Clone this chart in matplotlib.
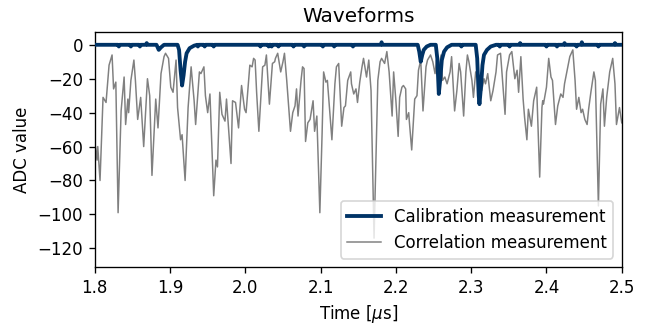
import numpy as np
import matplotlib
matplotlib.use("Agg")
import matplotlib.pyplot as plt

# calibration waveform (time in us, ADC counts)
calib_time = [
    1.800, 1.831, 1.832, 1.833, 1.847, 1.848, 1.849, 1.859, 1.860, 1.861,
    1.868, 1.869, 1.870, 1.882, 1.885, 1.888, 1.892,
    1.910, 1.912, 1.914, 1.916, 1.918, 1.920, 1.922, 1.926, 1.932,
    1.936, 1.937, 1.938, 1.945, 1.946, 1.947, 1.957, 1.958, 1.959,
    2.019, 2.020, 2.021, 2.030, 2.031, 2.032, 2.034, 2.035, 2.036,
    2.043, 2.044, 2.045, 2.063, 2.064, 2.065, 2.077, 2.078, 2.079,
    2.102, 2.103, 2.104, 2.117, 2.118, 2.119, 2.142, 2.143, 2.144,
    2.180, 2.181, 2.182,
    2.229, 2.231, 2.233, 2.235, 2.237, 2.241, 2.246,
    2.253, 2.255, 2.257, 2.259, 2.261, 2.264, 2.268, 2.274,
    2.286, 2.287, 2.288,
    2.306, 2.308, 2.310, 2.311, 2.313, 2.315, 2.317, 2.321, 2.326, 2.333,
    2.337, 2.338, 2.339, 2.350, 2.351, 2.352, 2.364, 2.365, 2.366,
    2.399, 2.400, 2.401, 2.413, 2.414, 2.415, 2.423, 2.424, 2.425,
    2.439, 2.440, 2.441, 2.446, 2.447, 2.448, 2.468, 2.469, 2.470,
    2.490, 2.491, 2.492, 2.500,
]
calib_adc = [
    0, 0, -1, 0, 0, -1, 0, 0, -1, 0,
    0, 1, 0, 0, -3, -1.5, 0,
    0, -3, -15, -24, -18, -10, -5, -2, -0.5,
    0, -1, 0, 0, -1, 0, 0, -1, 0,
    0, -1, 0, 0, -1, 0, 0, -1, 0,
    0, -1, 0, 0, -1, 0, 0, -1, 0,
    0, -1, 0, 0, -1, 0, 0, -1, 0,
    0, 1.5, 0,
    0, -4, -10, -6, -3, -1, 0,
    0, -8, -29, -20, -9, -4, -1.5, 0,
    0, -1, 0,
    0, -8, -30, -35, -25, -12, -6, -3, -1, 0,
    0, -1, 0, 0, -1, 0, 0, 1, 0,
    0, -1, 0, 0, -1, 0, 0, 1, 0,
    0, -1, 0, 0, 1.5, 0, 0, -1, 0,
    0, 1, 0, 0,
]

# correlation waveform (time in us, ADC counts)
corr_time = [
    1.800, 1.801, 1.803, 1.804, 1.807, 1.811, 1.815, 1.819, 1.823, 1.825,
    1.828, 1.831, 1.835, 1.839, 1.841, 1.844, 1.845, 1.848, 1.852, 1.854,
    1.857, 1.861, 1.865, 1.870, 1.873, 1.876, 1.881, 1.884, 1.888, 1.892,
    1.894, 1.898, 1.901, 1.904, 1.908, 1.910, 1.914, 1.916, 1.920, 1.924,
    1.928, 1.932, 1.934, 1.939, 1.941, 1.945, 1.947, 1.950, 1.953, 1.958,
    1.961, 1.963, 1.966, 1.969, 1.973, 1.975, 1.981, 1.983, 1.987, 1.991,
    1.995, 1.999, 2.001, 2.006, 2.009, 2.011, 2.013, 2.015, 2.018, 2.020,
    2.023, 2.026, 2.028, 2.032, 2.036, 2.039, 2.040, 2.043, 2.047, 2.050,
    2.052, 2.055, 2.060, 2.063, 2.066, 2.068, 2.070, 2.074, 2.076, 2.078,
    2.080, 2.083, 2.086, 2.090, 2.092, 2.095, 2.099, 2.102, 2.104, 2.107,
    2.109, 2.115, 2.119, 2.121, 2.124, 2.128, 2.131, 2.133, 2.136, 2.140,
    2.141, 2.144, 2.147, 2.149, 2.152, 2.155, 2.157, 2.161, 2.164, 2.167,
    2.171, 2.176, 2.179, 2.181, 2.185, 2.188, 2.191, 2.195, 2.197, 2.200,
    2.203, 2.205, 2.208, 2.210, 2.213, 2.214, 2.217, 2.218, 2.221, 2.225,
    2.228, 2.230, 2.233, 2.236, 2.240, 2.242, 2.246, 2.249, 2.252, 2.254,
    2.257, 2.260, 2.262, 2.265, 2.268, 2.272, 2.274, 2.278, 2.281, 2.284,
    2.286, 2.290, 2.293, 2.295, 2.297, 2.301, 2.303, 2.306, 2.310, 2.314,
    2.317, 2.319, 2.322, 2.326, 2.329, 2.333, 2.335, 2.339, 2.345, 2.347,
    2.351, 2.354, 2.358, 2.361, 2.363, 2.366, 2.369, 2.371, 2.374, 2.376,
    2.380, 2.383, 2.387, 2.391, 2.394, 2.395, 2.396, 2.400, 2.403, 2.406,
    2.408, 2.412, 2.415, 2.419, 2.422, 2.424, 2.427, 2.431, 2.435, 2.438,
    2.440, 2.443, 2.446, 2.448, 2.451, 2.454, 2.456, 2.459, 2.463, 2.465,
    2.469, 2.472, 2.475, 2.477, 2.480, 2.484, 2.488, 2.491, 2.493, 2.497,
    2.500,
]
corr_adc = [
    -72, -60, -68, -60, -80, -31, -34, -12, -6, -26,
    -22, -99, -39, -19, -47, -32, -40, -21, -9, -21,
    -44, -31, -60, -20, -30, -77, -32, -49, -17, -7,
    -5, -8, -25, -28, -9, -37, -56, -53, -80, -37,
    -13, -33, -47, -16, -17, -13, -30, -40, -29, -89,
    -68, -72, -28, -41, -45, -32, -70, -33, -34, -49,
    -24, -38, -40, -12, -13, -8, -9, -28, -51, -36,
    -13, -12, -6, -35, -11, -10, -8, -5, -16, -10,
    -5, -21, -51, -40, -36, -26, -42, -21, -13, -14,
    -57, -46, -44, -33, -51, -42, -99, -52, -16, -22,
    -21, -56, -23, -13, -11, -48, -37, -36, -21, -16,
    -23, -29, -26, -34, -22, -13, -8, -19, -9, -27,
    -114, -21, -10, -8, -11, -4, -16, -42, -16, -33,
    -54, -31, -25, -24, -26, -44, -40, -46, -62, -32,
    -30, -15, -9, -39, -13, -9, -6, -10, -17, -9,
    -14, -6, -21, -19, -23, -16, -7, -39, -27, -11,
    -16, -42, -16, -6, -10, -21, -31, -16, -18, -27,
    -20, -23, -17, -33, -27, -16, -6, -5, -41, -16,
    -6, -4, -20, -15, -28, -7, -32, -43, -56, -38,
    -48, -33, -25, -78, -37, -33, -35, -25, -8, -19,
    -21, -47, -36, -29, -31, -23, -16, -7, -3, -21,
    -38, -31, -40, -38, -44, -47, -38, -28, -16, -21,
    -95, -35, -26, -48, -31, -16, -8, -23, -47, -37,
    -46,
]

fig, ax = plt.subplots(figsize=(649 / 120, 324 / 120), dpi=120)
fig.subplots_adjust(left=0.146, right=0.958, top=0.901, bottom=0.176)

ax.plot(calib_time, calib_adc, color="#003366", lw=2.3, label="Calibration measurement", zorder=3)
ax.plot(corr_time, corr_adc, color="grey", lw=0.9, label="Correlation measurement", zorder=2)

ax.set_xlim(1.8, 2.5)
ax.set_ylim(-131, 7.5)
ax.set_xticks(np.arange(1.8, 2.51, 0.1))
ax.set_yticks([0, -20, -40, -60, -80, -100, -120])
ax.set_title("Waveforms")
ax.set_xlabel(r"Time [$\mu$s]")
ax.set_ylabel("ADC value")
ax.legend(loc="lower right")

fig.savefig("out.png", dpi=120)
